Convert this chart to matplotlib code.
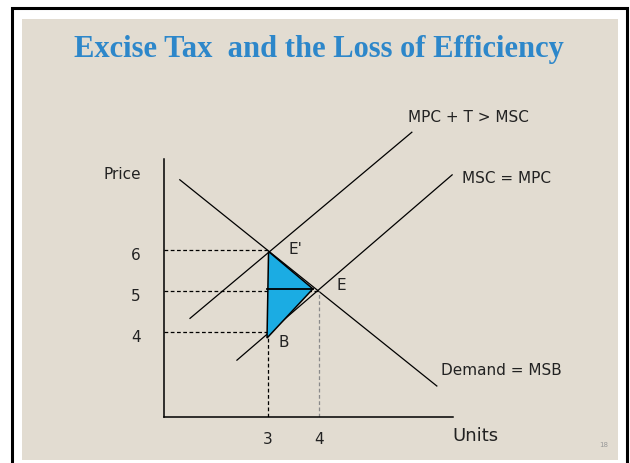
import matplotlib
matplotlib.use("Agg")
import matplotlib.pyplot as plt
from matplotlib.patches import Rectangle, Polygon
from matplotlib import transforms

# datos (unidades, precio)
demanda_q = [1.27, 6.31]
demanda_p = [7.72, 2.69]
msc_q = [2.39, 6.61]
msc_p = [3.32, 7.84]
mpct_q = [1.47, 5.82]
mpct_p = [4.34, 8.88]

precios = [6, 5, 4]
precio_hasta_q = [3, 4, 3]
unidades = [3, 4]
unidades_hasta_p = [4, 5]

# triangulo de perdida de eficiencia: E', E, B
tri_q = [3.01, 3.88, 2.98]
tri_p = [5.97, 5.06, 3.86]

beige = "#E2DCD1"
azul = "#1BACE3"
titulo_color = "#2D87CA"
fuente = "DejaVu Sans"

fig = plt.figure(figsize=(6.3, 4.63), dpi=100)
fig.patch.set_facecolor("white")

# marco negro y fondo beige
fig.patches.append(Rectangle((12 / 630, -0.05), 615 / 630, 1 - 8 / 463 + 0.05,
                             transform=fig.transFigure, fill=False,
                             edgecolor="black", linewidth=2.2, zorder=-2))
fig.patches.append(Rectangle((22 / 630, 3 / 463), 596 / 630, 441 / 463,
                             transform=fig.transFigure, facecolor=beige,
                             edgecolor="none", zorder=-3))

fig.text(0.506, 1 - 49 / 463, "Excise Tax  and the Loss of Efficiency",
         ha="center", va="center", fontsize=22, fontweight="bold",
         family="Liberation Serif", color=titulo_color)
fig.text(604 / 630, 1 - 445 / 463, "18", ha="center", va="center",
         fontsize=5, color="#999999", family=fuente)

ax = fig.add_axes([164 / 630, 46 / 463, 289 / 630, 258 / 463])
ax.set_xlim(0.96, 6.627)
ax.set_ylim(1.934, 8.227)
ax.patch.set_visible(False)
for s in ["top", "right"]:
    ax.spines[s].set_visible(False)
ax.spines["left"].set_linewidth(1.1)
ax.spines["bottom"].set_linewidth(1.1)

# curvas
ax.plot(demanda_q, demanda_p, color="black", lw=0.9, clip_on=False)
ax.plot(msc_q, msc_p, color="black", lw=0.9, clip_on=False)
ax.plot(mpct_q, mpct_p, color="black", lw=0.9, clip_on=False)

# lineas punteadas
x0 = ax.get_xlim()[0]
y0 = ax.get_ylim()[0]
for p, q in zip(precios, precio_hasta_q):
    ax.plot([x0, q], [p, p], color="black", lw=0.9, ls=(0, (3, 2)))
colores_v = ["black", "#8a8a8a"]
for q, p, c in zip(unidades, unidades_hasta_p, colores_v):
    ax.plot([q, q], [y0, p], color=c, lw=0.9, ls=(0, (3, 2)))

# triangulo azul
ax.add_patch(Polygon(list(zip(tri_q, tri_p)), closed=True, facecolor=azul,
                     edgecolor="black", linewidth=1.1, zorder=3))
ax.plot([tri_q[2], tri_q[1]], [tri_p[1], tri_p[1]], color="black", lw=1.3, zorder=4)

# ticks
ax.set_yticks(precios)
ax.set_yticklabels([str(p) for p in precios])
ax.set_xticks(unidades)
ax.set_xticklabels([str(u) for u in unidades])
ax.tick_params(length=0, labelsize=11)
ax.tick_params(axis="y", pad=17)
ax.tick_params(axis="x", pad=11)
for lab in ax.get_yticklabels() + ax.get_xticklabels():
    lab.set_family(fuente)
    lab.set_color("#222222")
abajo = transforms.ScaledTranslation(0, -4 / 100, fig.dpi_scale_trans)
for lab in ax.get_yticklabels():
    lab.set_transform(lab.get_transform() + abajo)

# etiquetas
kw = dict(family=fuente, fontsize=11, color="#222222", va="center",
          ha="center", clip_on=False)
ax.text(0.15, 7.86, "Price", **kw)
ax.text(3.54, 6.03, "E'", **kw)
ax.text(4.43, 5.15, "E", **kw)
ax.text(3.30, 3.76, "B", **kw)
ax.text(6.93, 9.25, "MPC + T > MSC", **kw)
ax.text(7.68, 7.74, "MSC = MPC", **kw)
ax.text(7.57, 3.08, "Demand = MSB", **kw)
ax.text(7.06, 1.47, "Units", family=fuente, fontsize=13, color="#222222",
        va="center", ha="center")

fig.savefig("out.png", dpi=100)
